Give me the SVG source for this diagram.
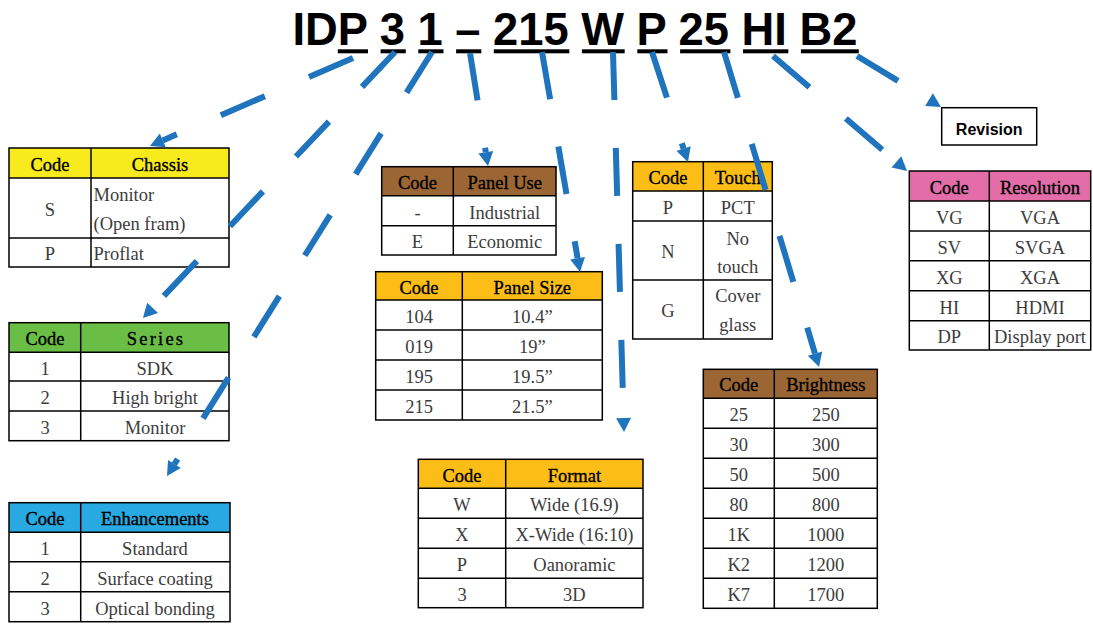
<svg xmlns="http://www.w3.org/2000/svg" width="1093" height="624" viewBox="0 0 1093 624">
<style>
.grid{fill:none;stroke:#000;stroke-width:1.5}
.ln{stroke:#000;stroke-width:1.5}
text{font-family:"Liberation Serif","Times New Roman",serif;font-size:18.5px}
.hd{fill:#000;stroke:#000;stroke-width:0.35;text-anchor:middle}
.bd{fill:#3c3c3c;text-anchor:middle}
.bl{fill:#3c3c3c}
.conn{fill:none;stroke:#1F74BD;stroke-width:6;stroke-dasharray:48 48;marker-end:url(#ah)}
</style>
<defs>
<marker id="ah" markerUnits="userSpaceOnUse" markerWidth="15" markerHeight="15" refX="0" refY="7.5" orient="auto" overflow="visible">
<path d="M0,0 L14,7.5 L0,15 z" fill="#1F74BD"/>
</marker>
</defs>
<rect width="1093" height="624" fill="#fff"/>

<g id="title">
<text x="292.5" y="45" style="font-family:'Liberation Sans',Arial,sans-serif;font-size:45.3px;font-weight:bold;fill:#000" xml:space="preserve">IDP 3 1 – 215 W P 25 HI B2</text>
<g fill="#000">
<rect x="337.8" y="49.3" width="30.2" height="4"/>
<rect x="380.6" y="49.3" width="25.2" height="4"/>
<rect x="418.3" y="49.3" width="25.2" height="4"/>
<rect x="456.1" y="49.3" width="25.2" height="4"/>
<rect x="493.8" y="49.3" width="75.5" height="4"/>
<rect x="581.9" y="49.3" width="42.8" height="4"/>
<rect x="637.3" y="49.3" width="30.2" height="4"/>
<rect x="680.1" y="49.3" width="50.3" height="4"/>
<rect x="743" y="49.3" width="45.3" height="4"/>
<rect x="800.9" y="49.3" width="57.9" height="4"/>
</g>
</g>

<g id="chassis">
<rect x="9" y="148" width="220" height="30" fill="#F7EA1D"/>
<rect x="9" y="148" width="220" height="119" class="grid"/>
<line x1="9" y1="178" x2="229" y2="178" class="ln"/>
<line x1="9" y1="238" x2="229" y2="238" class="ln"/>
<line x1="91" y1="148" x2="91" y2="267" class="ln"/>
<text x="50" y="170.5" class="hd">Code</text>
<text x="160" y="170.5" class="hd">Chassis</text>
<text x="50" y="216" class="bd">S</text>
<text x="93.5" y="201" class="bl">Monitor</text>
<text x="93.5" y="230" class="bl">(Open fram)</text>
<text x="50" y="260" class="bd">P</text>
<text x="93.5" y="260" class="bl">Proflat</text>
</g>

<g id="series">
<rect x="9" y="322.7" width="220" height="29.6" fill="#6BBE45"/>
<rect x="9" y="322.7" width="220" height="118" class="grid"/>
<line x1="9" y1="352.3" x2="229" y2="352.3" class="ln"/>
<line x1="9" y1="381" x2="229" y2="381" class="ln"/>
<line x1="9" y1="411" x2="229" y2="411" class="ln"/>
<line x1="80.7" y1="322.7" x2="80.7" y2="440.7" class="ln"/>
<text x="45" y="345" class="hd">Code</text>
<text x="156" y="345" class="hd" style="letter-spacing:2.2px">Series</text>
<text x="45" y="374.8" class="bd">1</text>
<text x="155" y="374.8" class="bd">SDK</text>
<text x="45" y="403.5" class="bd">2</text>
<text x="155" y="403.5" class="bd">High bright</text>
<text x="45" y="433.5" class="bd">3</text>
<text x="155" y="433.5" class="bd">Monitor</text>
</g>

<g id="enhancements">
<rect x="9" y="502.7" width="221" height="29.6" fill="#29A9E1"/>
<rect x="9" y="502.7" width="221" height="119" class="grid"/>
<line x1="9" y1="532.3" x2="230" y2="532.3" class="ln"/>
<line x1="9" y1="561.7" x2="230" y2="561.7" class="ln"/>
<line x1="9" y1="591.7" x2="230" y2="591.7" class="ln"/>
<line x1="80.7" y1="502.7" x2="80.7" y2="621.7" class="ln"/>
<text x="45" y="525" class="hd">Code</text>
<text x="155" y="525" class="hd">Enhancements</text>
<text x="45" y="555" class="bd">1</text>
<text x="155" y="555" class="bd">Standard</text>
<text x="45" y="584.5" class="bd">2</text>
<text x="155" y="584.5" class="bd">Surface coating</text>
<text x="45" y="614.5" class="bd">3</text>
<text x="155" y="614.5" class="bd">Optical bonding</text>
</g>

<g id="panel-use">
<rect x="381.7" y="166.7" width="174.3" height="29" fill="#9B6634"/>
<rect x="381.7" y="166.7" width="174.3" height="88.3" class="grid"/>
<line x1="381.7" y1="195.7" x2="556" y2="195.7" class="ln"/>
<line x1="381.7" y1="225.7" x2="556" y2="225.7" class="ln"/>
<line x1="453.3" y1="166.7" x2="453.3" y2="255" class="ln"/>
<text x="417.5" y="189" class="hd">Code</text>
<text x="504.7" y="189" class="hd">Panel Use</text>
<text x="417.5" y="218.5" class="bd">-</text>
<text x="504.7" y="218.5" class="bd">Industrial</text>
<text x="417.5" y="248" class="bd">E</text>
<text x="504.7" y="248" class="bd">Economic</text>
</g>

<g id="panel-size">
<rect x="375.7" y="271.7" width="226.6" height="28.3" fill="#FCBE16"/>
<rect x="375.7" y="271.7" width="226.6" height="148.3" class="grid"/>
<line x1="375.7" y1="300" x2="602.3" y2="300" class="ln"/>
<line x1="375.7" y1="330" x2="602.3" y2="330" class="ln"/>
<line x1="375.7" y1="360" x2="602.3" y2="360" class="ln"/>
<line x1="375.7" y1="390" x2="602.3" y2="390" class="ln"/>
<line x1="462.3" y1="271.7" x2="462.3" y2="420" class="ln"/>
<text x="419" y="293.5" class="hd">Code</text>
<text x="532.3" y="293.5" class="hd">Panel Size</text>
<text x="419" y="322.5" class="bd">104</text>
<text x="532.3" y="322.5" class="bd">10.4”</text>
<text x="419" y="352.5" class="bd">019</text>
<text x="532.3" y="352.5" class="bd">19”</text>
<text x="419" y="382.5" class="bd">195</text>
<text x="532.3" y="382.5" class="bd">19.5”</text>
<text x="419" y="412.5" class="bd">215</text>
<text x="532.3" y="412.5" class="bd">21.5”</text>
</g>

<g id="touch">
<rect x="632.7" y="161.7" width="139.6" height="29.3" fill="#FCBE16"/>
<rect x="632.7" y="161.7" width="139.6" height="177.3" class="grid"/>
<line x1="632.7" y1="191" x2="772.3" y2="191" class="ln"/>
<line x1="632.7" y1="221" x2="772.3" y2="221" class="ln"/>
<line x1="632.7" y1="280" x2="772.3" y2="280" class="ln"/>
<line x1="703.3" y1="161.7" x2="703.3" y2="339" class="ln"/>
<text x="668" y="184" class="hd">Code</text>
<text x="737.8" y="184" class="hd">Touch</text>
<text x="668" y="213.5" class="bd">P</text>
<text x="737.8" y="213.5" class="bd">PCT</text>
<text x="668" y="258" class="bd">N</text>
<text x="737.8" y="244.5" class="bd">No</text>
<text x="737.8" y="273" class="bd">touch</text>
<text x="668" y="317" class="bd">G</text>
<text x="737.8" y="301.7" class="bd">Cover</text>
<text x="737.8" y="331" class="bd">glass</text>
</g>

<g id="revision">
<rect x="941.7" y="107.7" width="95" height="37.3" fill="#fff" stroke="#000" stroke-width="1.5"/>
<text x="989.2" y="135" style="font-family:'Liberation Sans',Arial,sans-serif;font-size:16px;font-weight:bold;fill:#000;text-anchor:middle">Revision</text>
</g>

<g id="resolution">
<rect x="909.3" y="171" width="181.4" height="30" fill="#E26DA8"/>
<rect x="909.3" y="171" width="181.4" height="179" class="grid"/>
<line x1="909.3" y1="201" x2="1090.7" y2="201" class="ln"/>
<line x1="909.3" y1="231" x2="1090.7" y2="231" class="ln"/>
<line x1="909.3" y1="260.7" x2="1090.7" y2="260.7" class="ln"/>
<line x1="909.3" y1="290.7" x2="1090.7" y2="290.7" class="ln"/>
<line x1="909.3" y1="320.7" x2="1090.7" y2="320.7" class="ln"/>
<line x1="989.3" y1="171" x2="989.3" y2="350" class="ln"/>
<text x="949.3" y="193.5" class="hd">Code</text>
<text x="1040" y="193.5" class="hd">Resolution</text>
<text x="949.3" y="223.5" class="bd">VG</text>
<text x="1040" y="223.5" class="bd">VGA</text>
<text x="949.3" y="253.5" class="bd">SV</text>
<text x="1040" y="253.5" class="bd">SVGA</text>
<text x="949.3" y="283.5" class="bd">XG</text>
<text x="1040" y="283.5" class="bd">XGA</text>
<text x="949.3" y="313.5" class="bd">HI</text>
<text x="1040" y="313.5" class="bd">HDMI</text>
<text x="949.3" y="343" class="bd">DP</text>
<text x="1040" y="343" class="bd">Display port</text>
</g>

<g id="format">
<rect x="418.3" y="459.3" width="224.7" height="29" fill="#FCBE16"/>
<rect x="418.3" y="459.3" width="224.7" height="148.4" class="grid"/>
<line x1="418.3" y1="488.3" x2="643" y2="488.3" class="ln"/>
<line x1="418.3" y1="518.3" x2="643" y2="518.3" class="ln"/>
<line x1="418.3" y1="548.3" x2="643" y2="548.3" class="ln"/>
<line x1="418.3" y1="578.3" x2="643" y2="578.3" class="ln"/>
<line x1="505.7" y1="459.3" x2="505.7" y2="607.7" class="ln"/>
<text x="462" y="481.5" class="hd">Code</text>
<text x="574.4" y="481.5" class="hd">Format</text>
<text x="462" y="511" class="bd">W</text>
<text x="574.4" y="511" class="bd">Wide (16.9)</text>
<text x="462" y="541" class="bd">X</text>
<text x="574.4" y="541" class="bd">X-Wide (16:10)</text>
<text x="462" y="571" class="bd">P</text>
<text x="574.4" y="571" class="bd">Oanoramic</text>
<text x="462" y="600.5" class="bd">3</text>
<text x="574.4" y="600.5" class="bd">3D</text>
</g>

<g id="brightness">
<rect x="703.3" y="369.3" width="174" height="29" fill="#9B6634"/>
<rect x="703.3" y="369.3" width="174" height="239" class="grid"/>
<line x1="703.3" y1="398.3" x2="877.3" y2="398.3" class="ln"/>
<line x1="703.3" y1="428.3" x2="877.3" y2="428.3" class="ln"/>
<line x1="703.3" y1="458.3" x2="877.3" y2="458.3" class="ln"/>
<line x1="703.3" y1="488.3" x2="877.3" y2="488.3" class="ln"/>
<line x1="703.3" y1="518.3" x2="877.3" y2="518.3" class="ln"/>
<line x1="703.3" y1="548.3" x2="877.3" y2="548.3" class="ln"/>
<line x1="703.3" y1="578.3" x2="877.3" y2="578.3" class="ln"/>
<line x1="774.3" y1="369.3" x2="774.3" y2="608.3" class="ln"/>
<text x="738.8" y="391" class="hd">Code</text>
<text x="825.8" y="391" class="hd">Brightness</text>
<text x="738.8" y="421" class="bd">25</text>
<text x="825.8" y="421" class="bd">250</text>
<text x="738.8" y="451" class="bd">30</text>
<text x="825.8" y="451" class="bd">300</text>
<text x="738.8" y="481" class="bd">50</text>
<text x="825.8" y="481" class="bd">500</text>
<text x="738.8" y="511" class="bd">80</text>
<text x="825.8" y="511" class="bd">800</text>
<text x="738.8" y="541" class="bd">1K</text>
<text x="825.8" y="541" class="bd">1000</text>
<text x="738.8" y="571" class="bd">K2</text>
<text x="825.8" y="571" class="bd">1200</text>
<text x="738.8" y="601" class="bd">K7</text>
<text x="825.8" y="601" class="bd">1700</text>
</g>

<g id="connectors">
<line class="conn" x1="353" y1="58" x2="162.8" y2="140.4"/>
<line class="conn" x1="395" y1="52" x2="152.6" y2="307.8"/>
<line class="conn" x1="432" y1="52" x2="174.4" y2="464.1"/>
<line class="conn" x1="470" y1="53" x2="485.8" y2="152.2"/>
<line class="conn" x1="542" y1="52" x2="577.6" y2="258.2"/>
<line class="conn" x1="613" y1="52" x2="623.6" y2="418"/>
<line class="conn" x1="652" y1="52" x2="683.6" y2="148.7"/>
<line class="conn" x1="724" y1="52" x2="815" y2="353.6"/>
<line class="conn" x1="773" y1="56" x2="896.4" y2="161.9"/>
<line class="conn" x1="857" y1="56" x2="929" y2="99.7"/>
</g>
</svg>
